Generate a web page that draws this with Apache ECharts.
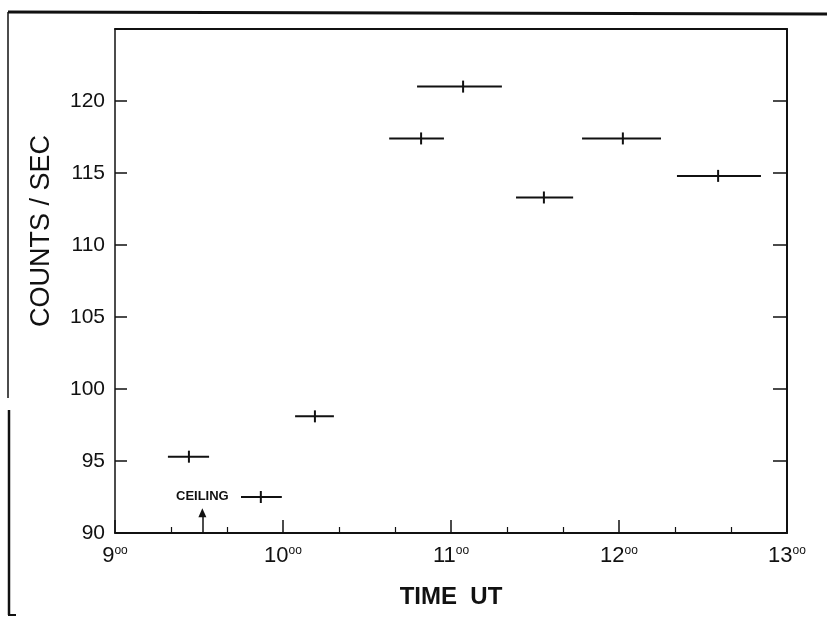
<!DOCTYPE html>
<html>
<head>
<meta charset="utf-8">
<script src="https://cdn.jsdelivr.net/npm/echarts@6/dist/echarts.min.js"></script>
<style>
  html, body { margin: 0; padding: 0; background: #fff; }
  #chart { width: 827px; height: 621px; }
</style>
</head>
<body>
<div id="chart"></div>
<script>
// time in hours UT: start / center / end of each integration interval
const timeStart = [9.315, 9.75, 10.072, 10.632, 10.798, 11.387, 11.78, 12.345]
const timeCenter = [9.44, 9.868, 10.19, 10.822, 11.072, 11.553, 12.023, 12.59]
const timeEnd = [9.56, 9.993, 10.303, 10.958, 11.303, 11.727, 12.25, 12.845]
const counts = [95.3, 92.5, 98.1, 117.4, 121.0, 113.3, 117.4, 114.8]
const xTicks = [9, 10, 11, 12, 13]
const yTicks = [90, 95, 100, 105, 110, 115, 120]
const ceilingTime = 9.52

const font = 'Liberation Sans, Arial, sans-serif'
const ink = '#111'

const chart = echarts.init(document.getElementById('chart'))

const option = {
  backgroundColor: '#fff',
  animation: false,
  grid: { left: 115, right: 40, top: 29, bottom: 88 },
  xAxis: [{
    type: 'value',
    min: xTicks[0],
    max: xTicks[xTicks.length - 1],
    interval: 1,
    axisLine: { show: true, lineStyle: { color: ink, width: 2 } },
    axisTick: { show: true, inside: true, length: 13, lineStyle: { color: ink, width: 1.5 } },
    minorTick: { show: true, splitNumber: 3, length: 6, lineStyle: { color: ink, width: 1.2 } },
    splitLine: { show: false },
    axisLabel: {
      margin: 12,
      formatter: v => '{h|' + v + '}{s|oo}',
      rich: {
        h: { fontSize: 22, fontFamily: font, color: ink, lineHeight: 22, verticalAlign: 'bottom' },
        s: { fontSize: 12, fontFamily: font, color: ink, lineHeight: 22, verticalAlign: 'top', padding: [0, 0, 10, 0] }
      }
    },
    name: 'TIME  UT',
    nameLocation: 'middle',
    nameGap: 52,
    nameTextStyle: { fontSize: 24, fontWeight: 'bold', fontFamily: font, color: ink }
  }, {
    type: 'value',
    position: 'top',
    min: xTicks[0],
    max: xTicks[xTicks.length - 1],
    axisLine: { show: true, lineStyle: { color: ink, width: 2 } },
    axisTick: { show: false },
    axisLabel: { show: false },
    splitLine: { show: false }
  }],
  yAxis: [{
    type: 'value',
    min: 90,
    max: 125,
    interval: 5,
    axisLine: { show: true, lineStyle: { color: ink, width: 1.5 } },
    axisTick: { show: true, inside: true, length: 12, lineStyle: { color: ink, width: 1.5 } },
    splitLine: { show: false },
    axisLabel: {
      margin: 10,
      fontSize: 21,
      fontFamily: font,
      color: ink,
      formatter: v => (yTicks.indexOf(v) >= 0 ? String(v) : '')
    }
  }, {
    type: 'value',
    position: 'right',
    min: 90,
    max: 125,
    interval: 5,
    axisLine: { show: true, lineStyle: { color: ink, width: 2 } },
    axisTick: { show: true, inside: true, length: 14, lineStyle: { color: ink, width: 1.5 } },
    axisLabel: { show: false },
    splitLine: { show: false }
  }],
  graphic: [
    // scan frame edges
    { type: 'line', shape: { x1: 8, y1: 12, x2: 827, y2: 14 }, style: { stroke: ink, lineWidth: 3 } },
    { type: 'line', shape: { x1: 8, y1: 12, x2: 8, y2: 398 }, style: { stroke: ink, lineWidth: 1.5 } },
    { type: 'line', shape: { x1: 9, y1: 410, x2: 9, y2: 615 }, style: { stroke: ink, lineWidth: 2.5 } },
    { type: 'line', shape: { x1: 8, y1: 615, x2: 16, y2: 615 }, style: { stroke: ink, lineWidth: 2 } },
    {
      type: 'text',
      x: 42,
      y: 231,
      rotation: Math.PI / 2,
      style: {
        text: 'COUNTS / SEC',
        fontSize: 27,
        fontFamily: font,
        fill: ink,
        align: 'center',
        verticalAlign: 'middle'
      }
    }
  ],
  series: [{
    type: 'custom',
    name: 'counts',
    renderItem: (params, api) => {
      const y = api.value(3)
      const a = api.coord([api.value(0), y])
      const c = api.coord([api.value(1), y])
      const b = api.coord([api.value(2), y])
      const st = { stroke: ink, lineWidth: 2 }
      return {
        type: 'group',
        children: [
          { type: 'line', shape: { x1: a[0], y1: a[1], x2: b[0], y2: b[1] }, style: st },
          { type: 'line', shape: { x1: c[0], y1: c[1] - 6, x2: c[0], y2: c[1] + 6 }, style: st }
        ]
      }
    },
    encode: { x: [0, 1, 2], y: 3 },
    data: counts.map((v, i) => [timeStart[i], timeCenter[i], timeEnd[i], v]),
    markLine: {
      silent: true,
      symbol: ['none', 'triangle'],
      symbolSize: [8, 9],
      lineStyle: { color: ink, width: 1.5, type: 'solid' },
      label: { show: false },
      data: [[{ coord: [ceilingTime, 90] }, { coord: [ceilingTime, 91.4] }]]
    },
    markPoint: {
      silent: true,
      symbol: 'circle',
      symbolSize: 0,
      label: {
        show: true,
        formatter: 'CEILING',
        fontSize: 13,
        fontWeight: 'bold',
        fontFamily: font,
        color: ink,
        position: 'inside'
      },
      data: [{ coord: [ceilingTime, 92.55] }]
    }
  }]
}

chart.setOption(option)
</script>
</body>
</html>
